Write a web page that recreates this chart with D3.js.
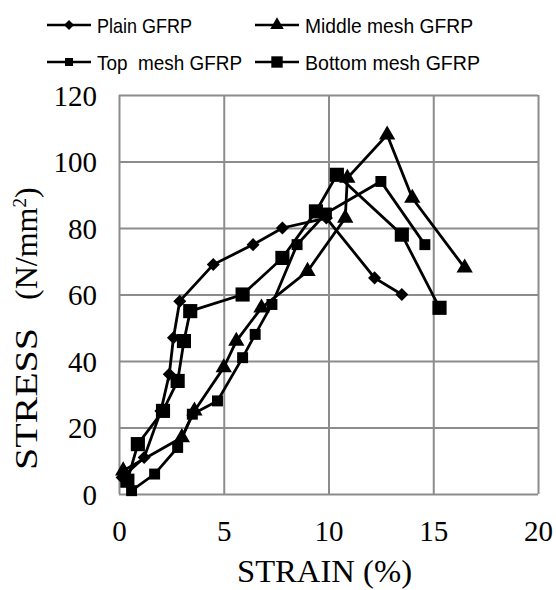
<!DOCTYPE html>
<meta charset="utf-8">
<head>
  <script src="https://d3js.org/d3.v7.min.js"></script>
</head>
<style>
  body { margin: 0; background: #fff; }
  .grid line { stroke: #8c8c8c; stroke-width: 2; }
  .tick text { font-family: "Liberation Serif", "Times New Roman", serif; font-size: 29px; fill: #000; }
  .legend text { font-family: "Liberation Sans", Arial, sans-serif; font-size: 21px; fill: #000; }
</style>
<body>
<script>
  // strain (%) / stress (N/mm2)
  var strainPlain = [0.15, 1.2, 2.0, 2.4, 2.6, 2.9, 4.5, 6.4, 7.8, 9.9, 12.2, 13.5];
  var stressPlain = [5, 11, 25, 36, 47, 58, 69, 75, 80, 83, 65, 60];

  var strainMiddle = [0.2, 3.0, 3.6, 5.0, 5.6, 6.8, 9.0, 10.8, 10.9, 12.8, 14.0, 16.5];
  var stressMiddle = [7, 17, 25, 38, 46, 56, 67, 83, 95, 108, 89, 68];

  var strainTop = [0.6, 1.7, 2.8, 3.5, 4.7, 5.9, 6.5, 7.3, 8.5, 9.9, 12.5, 14.6];
  var stressTop = [1, 6, 14, 24, 28, 41, 48, 57, 75, 84.5, 94, 75];

  var strainBottom = [0.4, 0.9, 2.1, 2.8, 3.1, 3.4, 5.9, 7.8, 9.4, 10.4, 13.5, 15.3];
  var stressBottom = [4, 15, 25, 34, 46, 55, 60, 71, 85, 96, 78, 56];

  var xTicks = [0, 5, 10, 15, 20];
  var yTicks = [0, 20, 40, 60, 80, 100, 120];

  var seriesNames = ["Plain GFRP", "Middle mesh GFRP", "Top  mesh GFRP", "Bottom mesh GFRP"];

  var series = [
    { name: seriesNames[0], xs: strainPlain, ys: stressPlain, shape: "diamond" },
    { name: seriesNames[1], xs: strainMiddle, ys: stressMiddle, shape: "triangle" },
    { name: seriesNames[2], xs: strainTop, ys: stressTop, shape: "small" },
    { name: seriesNames[3], xs: strainBottom, ys: stressBottom, shape: "big" }
  ];

  var svg = d3.select("body").append("svg")
    .attr("width", 556)
    .attr("height", 590);

  var x = d3.scaleLinear().domain([0, 20]).range([119, 538]);
  var y = d3.scaleLinear().domain([0, 120]).range([494, 95]);

  // gridlines + tick labels
  svg.append("g")
    .attr("class", "grid")
    .attr("transform", "translate(0,494)")
    .call(d3.axisBottom(x).tickValues(xTicks).tickSize(-399).tickPadding(0))
    .call(function (g) { g.select(".domain").remove(); })
    .selectAll("text").attr("dy", "1.62em");

  svg.append("g")
    .attr("class", "grid")
    .attr("transform", "translate(119,0)")
    .call(d3.axisLeft(y).tickValues(yTicks).tickSize(-419).tickPadding(22))
    .call(function (g) { g.select(".domain").remove(); })
    .selectAll("text").attr("dy", "0.35em");

  // markers
  function symbolFor(shape) {
    if (shape == "diamond") return d3.symbol().type(d3.symbolSquare).size(85)();
    if (shape == "triangle") return d3.symbol().type(d3.symbolTriangle).size(115)();
    if (shape == "small") return d3.symbol().type(d3.symbolSquare).size(120)();
    return d3.symbol().type(d3.symbolSquare).size(200)();
  }

  var line = d3.line()
    .x(function (d) { return x(d[0]); })
    .y(function (d) { return y(d[1]); });

  series.forEach(function (s) {
    var pts = s.xs.map(function (v, i) { return [v, s.ys[i]]; });
    svg.append("path")
      .datum(pts)
      .attr("d", line)
      .attr("fill", "none")
      .attr("stroke", "#000")
      .attr("stroke-width", 2.8);
    svg.selectAll(null)
      .data(pts)
      .enter().append("path")
      .attr("d", symbolFor(s.shape))
      .attr("transform", function (d) {
        return "translate(" + x(d[0]) + "," + y(d[1]) + ")" + (s.shape == "diamond" ? " rotate(45)" : "");
      })
      .attr("fill", "#000");
  });

  // axis titles
  svg.append("text")
    .attr("x", 237).attr("y", 582)
    .attr("textLength", 175)
    .attr("lengthAdjust", "spacingAndGlyphs")
    .style("font-family", "Liberation Serif, serif")
    .style("font-size", "31px")
    .text("STRAIN (%)");

  var yt = svg.append("g").attr("transform", "translate(37,0) rotate(-90)");
  yt.append("text")
    .attr("x", -470).attr("y", 0)
    .attr("textLength", 142)
    .attr("lengthAdjust", "spacingAndGlyphs")
    .style("font-family", "Liberation Serif, serif")
    .style("font-size", "32px")
    .text("STRESS");
  var unit = yt.append("text")
    .attr("x", -300).attr("y", 0)
    .style("font-family", "Liberation Serif, serif")
    .style("font-size", "32px");
  unit.append("tspan").text("(N/mm");
  unit.append("tspan").attr("dy", -11).style("font-size", "19px").text("2");
  unit.append("tspan").attr("dy", 11).text(")");

  // legend
  var legendPos = [[47, 25], [255, 25], [47, 62], [255, 62]];
  var legendLen = [95, 168, 145, 175];
  var lg = svg.append("g").attr("class", "legend");
  series.forEach(function (s, i) {
    var p = legendPos[i];
    var g = lg.append("g").attr("transform", "translate(" + p[0] + "," + p[1] + ")");
    g.append("line").attr("x1", 0).attr("x2", 44).attr("y1", 0).attr("y2", 0)
      .attr("stroke", "#000").attr("stroke-width", 2.5);
    var sz = { diamond: 50, triangle: 80, small: 64, big: 130 }[s.shape];
    var t = s.shape == "triangle" ? d3.symbolTriangle : d3.symbolSquare;
    g.append("path")
      .attr("d", d3.symbol().type(t).size(sz)())
      .attr("transform", "translate(22,0)" + (s.shape == "diamond" ? " rotate(45)" : ""))
      .attr("fill", "#000");
    g.append("text").attr("x", 50).attr("y", 8)
      .attr("textLength", legendLen[i])
      .attr("lengthAdjust", "spacingAndGlyphs")
      .attr("xml:space", "preserve")
      .text(s.name);
  });
</script>
</body>
